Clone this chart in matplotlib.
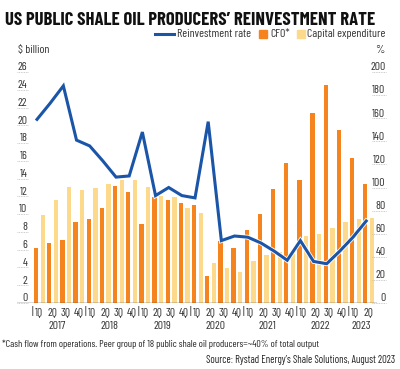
import matplotlib
matplotlib.use("Agg")
import matplotlib.pyplot as plt
import matplotlib.patheffects as pe
from matplotlib.lines import Line2D
from matplotlib.patches import Rectangle
from matplotlib.transforms import blended_transform_factory

# ── Data (quarterly, 1Q 2017 – 2Q 2023) ──────────────────────────────────────
years = ["2017", "2018", "2019", "2020", "2021", "2022", "2023"]
quarters = ["1Q", "2Q", "3Q", "4Q"] * 6 + ["1Q", "2Q"]
cfo = [6.2, 6.7, 7.1, 9.1, 9.5, 10.7, 13.2, 12.5, 8.9, 11.9, 11.6, 11.3, 11.0,
       3.0, 7.0, 6.2, 8.2, 10.0, 12.8, 15.8, 13.8, 21.4, 24.5, 19.5, 16.3, 13.4]
capex = [9.9, 11.6, 13.1, 12.7, 12.9, 13.4, 13.8, 13.8, 13.1, 12.0, 11.9, 10.7, 10.1,
         4.5, 3.9, 3.5, 4.7, 5.4, 5.7, 5.5, 7.5, 7.8, 8.4, 9.1, 9.5, 9.6]
reinvest = [159, 173, 188, 141, 136, 123, 109, 110, 148, 93, 100, 93, 91,
            157, 54, 58, 57, 52, 45, 37, 54, 36, 34, 45, 57, 71]
left_ticks = list(range(0, 27, 2))
right_ticks = list(range(0, 201, 20))

BLUE = "#1b55a8"
ORANGE = "#f5841f"
LIGHT = "#fdd98c"
TXT = "#333333"
FONT = ["Barlow Condensed", "DejaVu Sans"]
plt.rcParams["font.family"] = FONT

W, H = 400, 369
fig = plt.figure(figsize=(W / 100, H / 100), dpi=100)

def fx(px):
    return px / W

def fy(py):
    return 1 - py / H

# axes: x 17..377 px, y 303 (0) .. 72 (26)
ax = fig.add_axes([fx(17), fy(303), 360 / W, 231 / H])
ax2 = ax.twinx()
n = len(cfo)
xs = list(range(n))
ax.set_xlim(-1.70, 25.64)
ax.set_ylim(0, 26)
ax2.set_ylim(0, 200)

ax.bar([x - 0.25 for x in xs], cfo, width=0.33, color=ORANGE, zorder=2)
ax.bar([x + 0.25 for x in xs], capex, width=0.33, color=LIGHT, zorder=2)
ax2.plot([x - 0.18 for x in xs], reinvest, color=BLUE, lw=2.2, solid_joinstyle="miter",
         path_effects=[pe.Stroke(linewidth=3.4, foreground="white"), pe.Normal()], zorder=3)

for a in (ax, ax2):
    for s in a.spines.values():
        s.set_visible(False)
    a.set_xticks([])
    a.set_yticks([])
ax.axhline(0, color="#444444", lw=1.0, zorder=4)

# y labels sitting on short dotted underlines
bl = blended_transform_factory(ax.transAxes, ax.transData)
for v in left_ticks:
    ax.plot([0, 11 / 360], [v, v], transform=bl, color="#bbbbbb", lw=0.6,
            ls=(0, (1, 1)), clip_on=False)
    ax.annotate(str(v), (10.5 / 360, v), xycoords=bl, xytext=(0, 1.2),
                textcoords="offset points", ha="right", va="baseline",
                fontsize=8.5, color=TXT)
bl2 = blended_transform_factory(ax2.transAxes, ax2.transData)
for v in right_ticks:
    ax2.plot([355 / 360, 369 / 360], [v, v], transform=bl2, color="#bbbbbb", lw=0.6,
             ls=(0, (1, 1)), clip_on=False)
    ax2.annotate(str(v), (368.5 / 360, v), xycoords=bl2, xytext=(0, 1.2),
                 textcoords="offset points", ha="right", va="baseline",
                 fontsize=8.5, color=TXT, annotation_clip=False)

# x labels
bx = blended_transform_factory(ax.transData, ax.transAxes)
for i, q in enumerate(quarters):
    ax.text(i, -9.5 / 231, q, transform=bx, ha="center", va="center",
            fontsize=8.5, color=TXT)
for k, y in enumerate(years):
    ax.text(4 * k - 0.5, -9.5 / 231, "|", transform=bx, ha="center", va="center",
            fontsize=8.5, color=TXT)
    ax.text(4 * k + 1.35 if k < 6 else 4 * k + 0.45, -23 / 231, y, transform=bx,
            ha="center", va="center", fontsize=8.5, color=TXT)

# title (shrunk to fit the 5..372 px span), units, legend
title = fig.text(fx(5), fy(25), "US PUBLIC SHALE OIL PRODUCERS\u2019 REINVESTMENT RATE",
                 fontsize=15, fontweight="bold", color="#111111", va="baseline")
tw = title.get_window_extent(renderer=fig.canvas.get_renderer()).width
title.set_fontsize(15 * 367 / tw)

fig.text(fx(18), fy(50), "$ billion", fontsize=8.5, color=TXT, va="center")
fig.text(fx(384), fy(50), "%", fontsize=8.5, color=TXT, va="center", ha="right")

fig.add_artist(Line2D([fx(155), fx(174)], [fy(34), fy(34)], color=BLUE, lw=2.2))
fig.text(fx(177), fy(34), "Reinvestment rate", fontsize=8.5, color=TXT, va="center")
fig.add_artist(Rectangle((fx(259), fy(38)), fx(8), 8 / H, color=ORANGE))
fig.text(fx(270), fy(34), "CFO*", fontsize=8.5, color=TXT, va="center")
fig.add_artist(Rectangle((fx(297), fy(38)), fx(8), 8 / H, color=LIGHT))
fig.text(fx(307), fy(34), "Capital expenditure", fontsize=8.5, color=TXT, va="center")

# footnotes
fig.text(fx(2), fy(344), "*Cash flow from operations. Peer group of 18 public shale oil "
         "producers=~40% of total output", fontsize=7.2, color="#222222", va="center")
fig.text(fx(395), fy(360), "Source: Rystad Energy\u2019s Shale Solutions, August 2023",
         fontsize=7.6, color="#222222", va="center", ha="right")

fig.savefig("out.png", dpi=100)
